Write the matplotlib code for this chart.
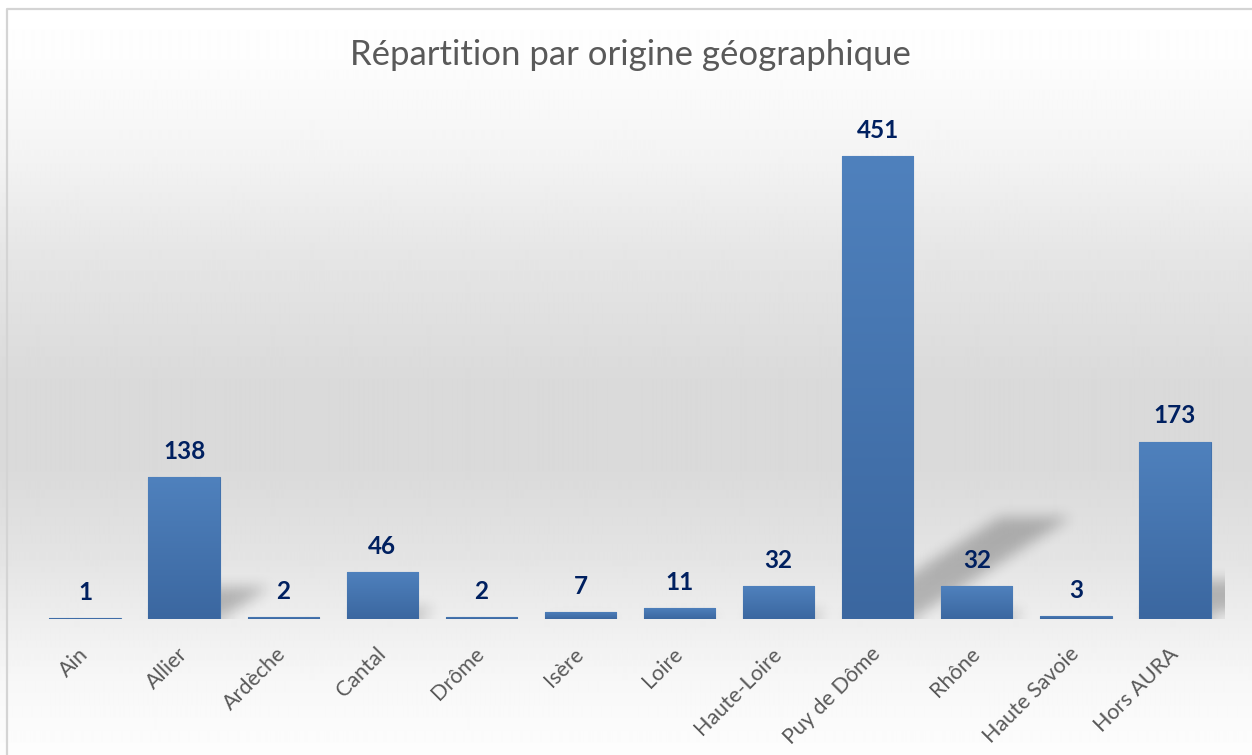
import numpy as np
import matplotlib.pyplot as plt
from matplotlib.path import Path
from matplotlib.colors import LinearSegmentedColormap

categories = ["Ain", "Allier", "Ardèche", "Cantal", "Drôme", "Isère", "Loire",
              "Haute-Loire", "Puy de Dôme", "Rhône", "Haute Savoie", "Hors AURA"]
counts = [1, 138, 2, 46, 2, 7, 11, 32, 451, 32, 3, 173]

title = "Répartition par origine géographique"
font = "Lato"
W, H = 1252, 755

fig = plt.figure(figsize=(W / 100, H / 100), dpi=100)

# background gradient (white top, grey middle, white bottom)
bg = fig.add_axes([0, 0, 1, 1], zorder=0)
stops_y = [0, 60, 150, 250, 380, 470, 560, 620, 680, 755]
stops_v = [255, 253, 244, 230, 218, 218, 228, 238, 247, 253]
col = np.interp(np.arange(H), stops_y, stops_v) / 255
bg.imshow(np.repeat(col[:, None], 4, axis=1), cmap="gray", vmin=0, vmax=1,
          aspect="auto", extent=[0, W, H, 0], interpolation="bilinear")
bg.plot([6.5, 6.5, W + 5], [H + 5, 8.5, 8.5], color="#d4d4d4", lw=1.6)
bg.set_xlim(0, W)
bg.set_ylim(H, 0)
bg.axis("off")

ax = fig.add_axes([35.5 / W, (H - 619) / H, 1189 / W, 513 / H], zorder=1)
ax.patch.set_alpha(0)
x = np.arange(len(categories))
ax.set_xlim(-0.5, len(categories) - 0.5)
ax.set_ylim(0, 500)

# perspective shadows, rasterised and blurred
nx, ny = 1189, 513
gx = np.linspace(-0.5, len(categories) - 0.5, nx)
gy = np.linspace(0, 500, ny)
GX, GY = np.meshgrid(gx, gy)
pts = np.column_stack([GX.ravel(), GY.ravel()])
mask = np.zeros(GX.size)
bw = 0.72
for xi, v in zip(x, counts):
    hs = 0.22 * v
    dx = 1.55 * hs * (513 / 500) / 99
    poly = [(xi - bw / 2, 0), (xi + bw / 2, 0),
            (xi + bw / 2 + dx, hs), (xi - bw / 2 + dx, hs)]
    mask = np.maximum(mask, Path(poly).contains_points(pts).astype(float))
mask = mask.reshape(ny, nx)


def box_blur(a, r, axis):
    pad = [(0, 0), (0, 0)]
    pad[axis] = (r + 1, r)
    c = np.cumsum(np.pad(a, pad, mode="edge"), axis=axis)
    n = a.shape[axis]
    hi = np.take(c, np.arange(2 * r + 1, 2 * r + 1 + n), axis=axis)
    lo = np.take(c, np.arange(0, n), axis=axis)
    return (hi - lo) / (2 * r + 1)


for _ in range(3):
    mask = box_blur(mask, 6, 1)
    mask = box_blur(mask, 6, 0)
shadow = np.zeros((ny, nx, 4))
shadow[..., 3] = mask * 0.24
ax.imshow(shadow, origin="lower", aspect="auto",
          extent=[-0.5, len(categories) - 0.5, 0, 500], zorder=1)

# bars with vertical gradient
bar_cmap = LinearSegmentedColormap.from_list("bar", ["#3b67a0", "#4f81bd"])
bars = ax.bar(x, counts, width=bw, color="none", edgecolor="#4272ad",
              linewidth=0.8, zorder=2)
grad = np.linspace(0, 1, 256)[:, None]
for b in bars:
    x0, w, h = b.get_x(), b.get_width(), b.get_height()
    im = ax.imshow(grad, cmap=bar_cmap, origin="lower", aspect="auto",
                   extent=[x0, x0 + w, 0, h], zorder=3)
    im.set_clip_path(b)
    ax.annotate(str(int(h)), (b.get_x() + w / 2, h), xytext=(0, 13),
                textcoords="offset points", ha="center", va="baseline",
                fontsize=17.5, fontweight="bold", color="#002060",
                family=font, zorder=4)
ax.set_xlim(-0.5, len(categories) - 0.5)
ax.set_ylim(0, 500)

ax.set_xticks(x)
ax.set_xticklabels(categories, rotation=45, ha="right", va="center",
                   rotation_mode="anchor", fontsize=15.5, color="#595959",
                   family=font)
ax.tick_params(axis="x", length=0, pad=23)
ax.set_yticks([])
for s in ax.spines.values():
    s.set_visible(False)

fig.text(630 / W, 1 - 65 / H, title, ha="center", va="baseline",
         fontsize=25, color="#595959", family=font)

fig.savefig("out.png", dpi=100)
